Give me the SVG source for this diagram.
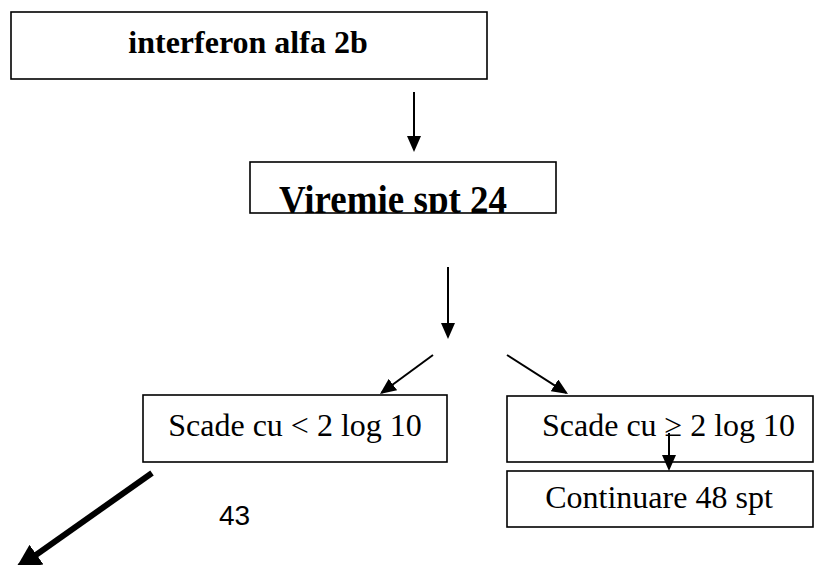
<svg xmlns="http://www.w3.org/2000/svg" width="814" height="565" viewBox="0 0 814 565">
<style>
.box{fill:#fff;stroke:#000;stroke-width:1.6}
.tb{font-family:"Liberation Serif","Times New Roman",serif;font-weight:bold;font-size:32px;fill:#000}
.tr{font-family:"Liberation Serif","Times New Roman",serif;font-size:32px;fill:#000}
.conn{stroke:#000;stroke-width:2;fill:none}
.thick{stroke:#000;stroke-width:6;fill:none}
</style>
<defs>
<marker id="ah" markerUnits="userSpaceOnUse" markerWidth="16" markerHeight="14" refX="14" refY="7" orient="auto">
<path d="M0,0 L16,7 L0,14 z" fill="#000"/>
</marker>
<marker id="ahBig" markerUnits="userSpaceOnUse" markerWidth="26" markerHeight="24" refX="21" refY="12" orient="auto">
<path d="M0,0 L26,12 L0,24 z" fill="#000"/>
</marker>
<clipPath id="clipV"><rect x="250" y="162" width="306" height="51"/></clipPath>
</defs>
<rect width="814" height="565" fill="#fff"/>
<g id="n1">
<rect class="box" x="11" y="12" width="476" height="67"/>
<text class="tb" x="248" y="53" text-anchor="middle">interferon alfa 2b</text>
</g>
<g id="n2">
<rect class="box" x="250" y="162" width="306" height="51"/>
<g clip-path="url(#clipV)">
<text class="tb" x="393" y="0" text-anchor="middle" style="font-size:37px" transform="translate(0,213) scale(1,1.1)">Viremie spt 24</text>
</g>
</g>
<g id="n3">
<rect class="box" x="143" y="395" width="304" height="67"/>
<text class="tr" x="295" y="436" text-anchor="middle">Scade cu &lt; 2 log 10</text>
</g>
<g id="n4">
<rect class="box" x="507" y="396" width="306" height="66"/>
<text class="tr" x="542" y="436">Scade cu ≥ 2 log 10</text>
</g>
<g id="n5">
<rect class="box" x="507" y="471" width="306" height="56"/>
<text class="tr" x="659" y="508" text-anchor="middle">Continuare 48 spt</text>
</g>
<g id="connectors">
<line class="conn" x1="414" y1="92" x2="414" y2="150" marker-end="url(#ah)"/>
<line class="conn" x1="448" y1="267" x2="448" y2="337" marker-end="url(#ah)"/>
<line class="conn" x1="433" y1="355" x2="381.6" y2="392.8" marker-end="url(#ah)"/>
<line class="conn" x1="507" y1="355" x2="566.3" y2="392.9" marker-end="url(#ah)"/>
<line class="conn" x1="669" y1="433" x2="669" y2="469" marker-end="url(#ah)"/>
<line class="thick" x1="152" y1="473" x2="19.3" y2="566.7" marker-end="url(#ahBig)"/>
</g>
<text x="219" y="525" font-family="'Liberation Sans',Arial,sans-serif" font-size="28" fill="#000">43</text>
</svg>
